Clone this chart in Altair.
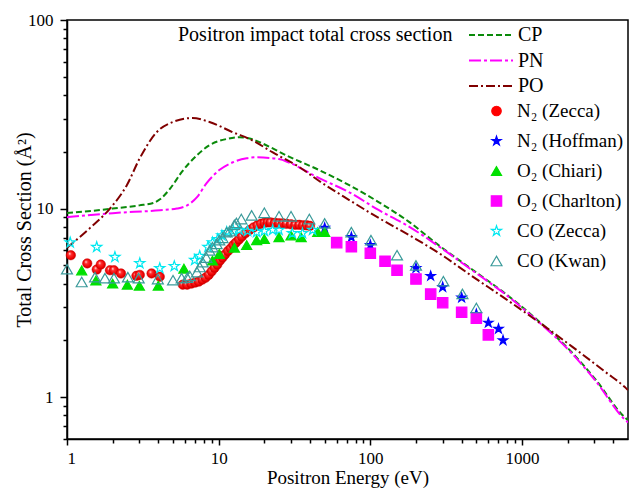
import altair as alt
import pandas as pd

FONT = "Liberation Serif"

# ---------------- theory curves (E in eV, sigma in A^2) ----------------
cp_E = [1, 1.5, 2, 3, 3.7, 4.1, 4.8, 5.7, 7.2, 8.7, 11.3, 13.7, 16.7, 18.6, 29.3, 46, 72.6, 114, 180, 283, 467, 784, 1289, 2128, 3081, 4693, 5000]
cp_s = [9.46, 9.75, 10.0, 10.4, 10.7, 11.2, 12.8, 15.6, 19.2, 21.7, 23.4, 23.9, 23.3, 22.5, 18.8, 16.0, 13.3, 10.8, 8.5, 6.38, 4.77, 3.52, 2.53, 1.73, 1.23, 0.79, 0.755]

pn_E = [1, 2, 4.1, 5.3, 6.2, 7.2, 8.3, 10.1, 12.4, 15.3, 17.8, 25, 29.3, 46, 72.6, 114, 172, 283, 467, 784, 1289, 2128, 3081, 4693, 5000]
pn_s = [9.0, 9.46, 9.8, 10.0, 10.4, 11.5, 13.6, 16.0, 17.6, 18.5, 18.7, 18.3, 17.5, 14.5, 12.2, 9.8, 8.2, 6.3, 4.72, 3.49, 2.5, 1.71, 1.21, 0.77, 0.735]

po_E = [1, 1.42, 1.92, 2.48, 3.02, 3.9, 5.0, 6.7, 8.7, 12.4, 16.7, 22.6, 34, 46, 72.6, 114, 195, 283, 467, 784, 1289, 2128, 3549, 4829, 5000]
po_s = [6.2, 7.9, 10.0, 13.3, 18.5, 25.4, 28.8, 30.2, 28.8, 25.4, 23.0, 19.9, 16.6, 14.0, 11.1, 8.9, 6.97, 5.81, 4.39, 3.31, 2.5, 1.86, 1.36, 1.12, 1.09]

models = ["CP", "PN", "PO"]
line_colors = ["#0a8a0a", "#ff00ff", "#800000"]
line_dashes = [[6, 3], [12, 3, 3, 3], [9, 3, 2, 3]]

# ---------------- experimental data ----------------
n2_zecca_E = [1.06, 1.36, 1.57, 1.67, 1.92, 2.04, 2.27, 2.87, 3.02, 3.61, 4.09,
              5.8, 6.2, 6.6, 7.0, 7.4, 7.8, 8.2, 8.6, 9.0, 9.4, 9.8, 10.2, 10.6, 11.0, 11.5,
              12.0, 12.5, 13.0, 13.6, 14.2, 15.0, 16.0, 17.0, 18.0, 19.0, 20.0, 21.0, 22.0,
              23.5, 25.0, 26.5, 28.0, 30.0, 32.0, 34.0, 36.0, 38.0, 40.0]
n2_zecca_s = [5.66, 5.12, 4.75, 5.05, 4.71, 4.71, 4.53, 4.4, 4.45, 4.53, 4.35,
              3.95, 3.95, 4.0, 4.05, 4.1, 4.2, 4.3, 4.45, 4.65, 4.85, 5.05, 5.3, 5.5, 5.7, 5.95,
              6.15, 6.4, 6.6, 6.85, 7.1, 7.4, 7.7, 7.95, 8.15, 8.3, 8.4, 8.45, 8.45,
              8.4, 8.35, 8.35, 8.3, 8.25, 8.2, 8.2, 8.15, 8.15, 8.1]

n2_hoff_E = [50, 75, 100, 200, 250, 300, 400, 500, 600, 700, 750]
n2_hoff_s = [7.9, 7.05, 6.4, 4.83, 4.39, 3.83, 3.37, 2.76, 2.48, 2.3, 2.0]

o2_chiari_E = [1.25, 1.55, 2.0, 2.5, 3.0, 4.0, 5.9, 9.1, 10.1, 12.7, 15.3, 17.8, 20, 25, 30, 35, 45, 50]
o2_chiari_s = [4.7, 4.15, 4.0, 3.95, 3.9, 3.9, 4.8, 5.3, 5.75, 6.2, 6.4, 6.8, 6.9, 7.05, 7.2, 7.05, 7.5, 7.5]

o2_charl_E = [60, 75, 100, 125, 150, 200, 250, 300, 400, 500, 600]
o2_charl_s = [6.6, 6.27, 5.8, 5.26, 4.71, 4.23, 3.52, 3.17, 2.82, 2.62, 2.14]

co_zecca_E = [1.05, 1.57, 2.07, 3.02, 4.09, 5.1, 6.95, 7.5, 8.5, 9.1, 9.85, 10.5, 11.3, 12.5, 13.7, 15.5, 17.8, 20, 22.7, 25, 30.6, 35.7, 41.6]
co_zecca_s = [6.6, 6.25, 5.53, 5.13, 4.83, 4.95, 5.33, 5.6, 6.25, 6.6, 6.88, 7.2, 7.5, 7.6, 7.7, 7.6, 7.5, 7.6, 7.7, 7.7, 7.4, 7.4, 7.7]

co_kwan_E = [1.0, 1.25, 1.53, 1.78, 2.04, 2.52, 2.97, 3.97, 5.0, 5.7, 6.2, 6.45, 7.2, 7.5, 7.85, 8.3, 8.7,
             9.1, 9.7, 10.1, 10.6, 11.3, 11.8, 12.7, 13.1, 14.1, 16.5, 20, 25, 30, 39.6, 50, 75, 101,
             150, 200, 303, 405, 500]
co_kwan_s = [4.77, 4.08, 4.33, 4.28, 4.28, 4.33, 4.28, 4.23, 4.17, 4.28, 4.3, 4.4, 4.6, 4.9, 5.2, 5.5, 6.0,
             6.25, 6.5, 6.8, 7.0, 7.5, 7.6, 8.2, 8.4, 8.8, 9.2, 9.5, 9.1, 9.1, 8.8, 8.35, 7.5, 6.8,
             5.66, 5.0, 4.12, 3.53, 2.97]

series = ["N\u2082 (Zecca)", "N\u2082 (Hoffman)", "O\u2082 (Chiari)", "O\u2082 (Charlton)", "CO (Zecca)", "CO (Kwan)"]
STAR = ("M0,-1L0.2245,-0.309L0.9511,-0.309L0.3633,0.118L0.5878,0.809L0,0.382"
        "L-0.5878,0.809L-0.3633,0.118L-0.9511,-0.309L-0.2245,-0.309Z")
pt_shapes = ["circle", STAR, "triangle-up", "square", STAR, "triangle-up"]
pt_strokes = ["#ff0000", "#0000ff", "#00e000", "#ff00ff", "#00e8f0", "#3a9a9a"]
pt_fills = ["#ff0000", "#0000ff", "#00e000", "#ff00ff", "transparent", "transparent"]
pt_sizes = [90, 120, 90, 64, 120, 100]

# ---------------- build tables ----------------
lines_df = pd.concat([
    pd.DataFrame({"E": cp_E, "sigma": cp_s, "model": "CP"}),
    pd.DataFrame({"E": pn_E, "sigma": pn_s, "model": "PN"}),
    pd.DataFrame({"E": po_E, "sigma": po_s, "model": "PO"}),
], ignore_index=True)

pts = [
    (series[1], n2_hoff_E, n2_hoff_s),
    (series[2], o2_chiari_E, o2_chiari_s),
    (series[3], o2_charl_E, o2_charl_s),
    (series[4], co_zecca_E, co_zecca_s),
    (series[5], co_kwan_E, co_kwan_s),
]
pts_df = pd.concat([pd.DataFrame({"E": e, "sigma": s, "series": n}) for n, e, s in pts], ignore_index=True)
zecca_df = pd.DataFrame({"E": n2_zecca_E, "sigma": n2_zecca_s, "series": series[0]})

# ---------------- axes ----------------
x_ticks = [1, 2, 3, 4, 5, 6, 7, 8, 9, 10, 20, 30, 40, 50, 60, 70, 80, 90,
           100, 200, 300, 400, 500, 600, 700, 800, 900, 1000, 2000, 3000, 4000]
y_ticks = [0.6, 0.7, 0.8, 0.9, 1, 2, 3, 4, 5, 6, 7, 8, 9, 10, 20, 30, 40, 50, 60, 70, 80, 90, 100]
major = "datum.value == 1 || datum.value == 10 || datum.value == 100 || datum.value == 1000"

x_scale = alt.Scale(type="log", domain=[1, 5000], nice=False)
y_scale = alt.Scale(type="log", domain=[0.6, 100], nice=False)

axis_style = dict(labelFont=FONT, labelFontSize=17, labelColor="black",
                  titleFont=FONT, titleFontWeight="normal", titleColor="black",
                  domainColor="black", domainWidth=1.5, tickColor="black", tickWidth=1.5,
                  labelOverlap=False, grid=False)

x_axis = alt.Axis(values=x_ticks, labelExpr=f"({major}) ? datum.value : ''",
                  tickSize={"condition": {"test": major, "value": 6}, "value": 4},
                  labelPadding=5, titlePadding=2, titleFontSize=19,
                  title="Positron Energy (eV)", **axis_style)
y_axis = alt.Axis(values=y_ticks, labelExpr=f"({major}) ? datum.value : ''",
                  tickSize={"condition": {"test": major, "value": 7}, "value": 4},
                  labelPadding=7, titlePadding=-7, titleFontSize=20,
                  title="Total Cross Section (\u00c5\u00b2)", **axis_style)

line_legend = alt.Legend(title=None, orient="none", legendX=401, legendY=3, symbolType="stroke",
                         symbolSize=1936, symbolStrokeWidth=2, clipHeight=24, rowPadding=1.5,
                         labelOffset=4, labelFont=FONT, labelFontSize=20, labelColor="black", padding=0)
pt_legend = alt.Legend(title=None, orient="none", legendX=420, legendY=76, clipHeight=30, rowPadding=0,
                       labelOffset=11, labelFont=FONT, labelFontSize=19, labelColor="black",
                       symbolStrokeWidth=1.2, padding=0)

lines = alt.Chart(lines_df).mark_line(strokeWidth=2, interpolate="monotone", clip=True).encode(
    x=alt.X("E:Q", scale=x_scale, axis=x_axis),
    y=alt.Y("sigma:Q", scale=y_scale, axis=y_axis),
    color=alt.Color("model:N", scale=alt.Scale(domain=models, range=line_colors), legend=line_legend),
    strokeDash=alt.StrokeDash("model:N", scale=alt.Scale(domain=models, range=line_dashes), legend=line_legend),
)

ball = {"gradient": "radial", "x1": 0.35, "y1": 0.32, "r1": 0.0, "x2": 0.5, "y2": 0.5, "r2": 0.55,
        "stops": [{"offset": 0.0, "color": "#ffffff"}, {"offset": 0.3, "color": "#ff3030"},
                  {"offset": 0.75, "color": "#ee0000"}, {"offset": 1.0, "color": "#b00000"}]}
zecca = alt.Chart(zecca_df).mark_point(shape="circle", size=90, opacity=1, filled=True, fill=ball,
                                        stroke="#d00000", strokeWidth=0.5).encode(
    x=alt.X("E:Q", scale=x_scale),
    y=alt.Y("sigma:Q", scale=y_scale),
)

points = alt.Chart(pts_df).mark_point(opacity=1, strokeWidth=1.2).encode(
    x=alt.X("E:Q", scale=x_scale),
    y=alt.Y("sigma:Q", scale=y_scale),
    shape=alt.Shape("series:N", scale=alt.Scale(domain=series, range=pt_shapes), legend=pt_legend),
    stroke=alt.Stroke("series:N", scale=alt.Scale(domain=series, range=pt_strokes), legend=pt_legend),
    fill=alt.Fill("series:N", scale=alt.Scale(domain=series, range=pt_fills), legend=pt_legend),
    size=alt.Size("series:N", scale=alt.Scale(domain=series, range=pt_sizes), legend=pt_legend),
)

chart = alt.layer(lines, zecca, points).properties(
    width=561, height=419,
    background="white",
    autosize=alt.AutoSizeParams(type="none"),
    padding={"left": 67, "top": 20, "right": 1, "bottom": 50},
    title=alt.TitleParams(text="Positron impact total cross section", anchor="start", frame="group",
                          font=FONT, fontSize=20, fontWeight="normal", color="black",
                          offset=0, dx=111, dy=50, baseline="alphabetic"),
).configure_view(
    stroke="black", strokeWidth=1.5
)

chart.save("out.html", embed_options={"renderer": "svg", "actions": False})
